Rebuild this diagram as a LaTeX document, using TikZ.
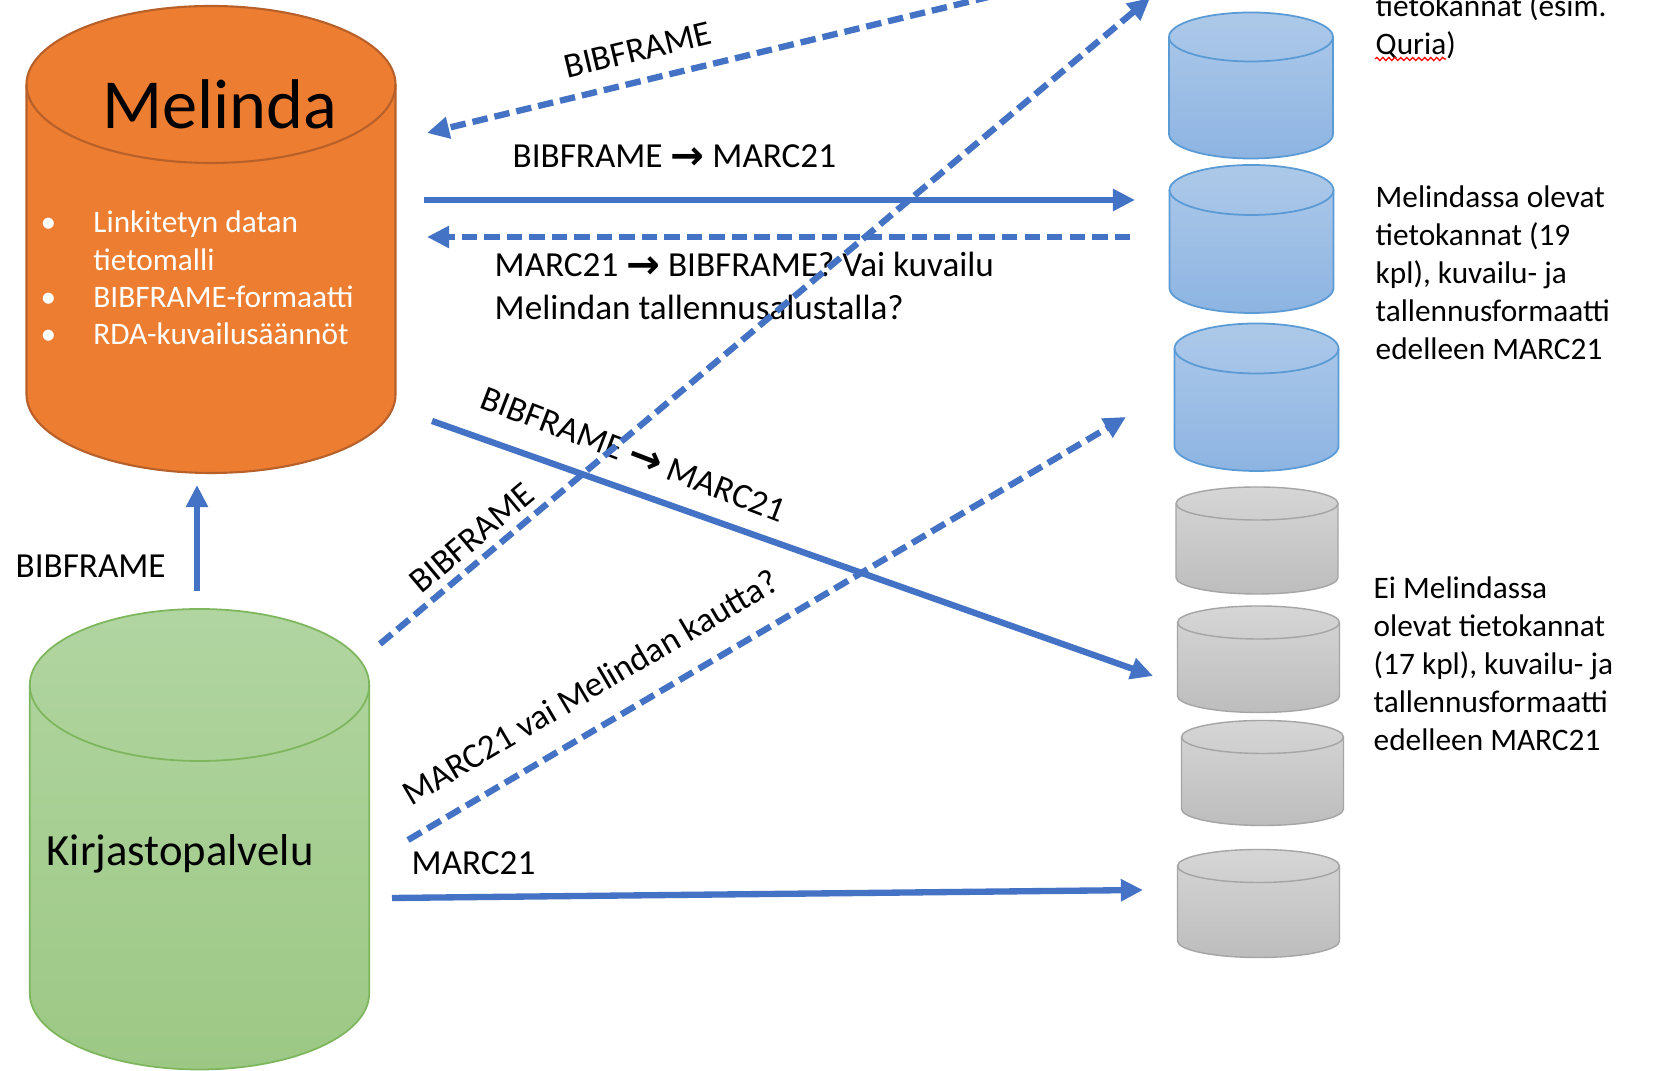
\documentclass[tikz,border=0pt]{standalone}
\usepackage{fontspec}
\setmainfont{Carlito}
\newfontfamily\symfont{DejaVu Sans Bold}
\usetikzlibrary{arrows.meta,decorations.pathmorphing}
\definecolor{arrowblue}{HTML}{4472C4}
\definecolor{melorange}{HTML}{ED7D31}
\definecolor{melborder}{HTML}{B8602A}
\definecolor{greentop}{HTML}{B1D5A1}
\definecolor{greenbot}{HTML}{9CC884}
\definecolor{greenline}{HTML}{7DB65C}
\definecolor{bluetop}{HTML}{ADC9E9}
\definecolor{bluebot}{HTML}{8DB4E2}
\definecolor{blueline}{HTML}{5B9BD5}
\definecolor{graytop}{HTML}{D6D6D6}
\definecolor{graybot}{HTML}{BDBDBD}
\definecolor{grayline}{HTML}{A5A5A5}
\newcommand\rarr{\raisebox{-0.4pt}{\symfont\fontsize{11.5}{12}\selectfont →}}
% cx, ytop-center, ybottom-center, rx, ry, body style, rim style
\newcommand\dbcylinder[7]{%
  \path[#6] (#1-#4,#2) -- (#1-#4,#3)
    arc[start angle=180,end angle=0,x radius=#4,y radius=#5]
    -- (#1+#4,#2)
    arc[start angle=0,end angle=-180,x radius=#4,y radius=#5] -- cycle;
  \draw[#7] (#1-#4,#2) arc[start angle=180,end angle=0,x radius=#4,y radius=#5];
}
\tikzset{
  lbl/.style={inner sep=0pt, font=\fontsize{10}{12.2}\selectfont, text=black},
  side/.style={inner sep=0pt, anchor=base west, font=\fontsize{8.9}{10.8}\selectfont, text=black},
  flow/.style={draw=arrowblue, line width=1.8pt, -{Triangle[length=6.3pt,width=6pt]}},
  flowdash/.style={flow, dash pattern=on 4.4pt off 2pt},
  orangebody/.style={fill=melorange, draw=melborder, line width=0.6pt},
  orangerim/.style={draw=melborder, line width=0.6pt},
  greenbody/.style={top color=greentop, bottom color=greenbot, draw=greenline, line width=0.5pt},
  greenrim/.style={draw=greenline, line width=0.5pt},
  bluebody/.style={top color=bluetop, bottom color=bluebot, draw=blueline, line width=0.5pt},
  bluerim/.style={draw=blueline, line width=0.5pt},
  graybody/.style={top color=graytop, bottom color=graybot, draw=grayline, line width=0.4pt},
  grayrim/.style={draw=grayline, line width=0.4pt},
}
\begin{document}
\begin{tikzpicture}[x=0.01cm,y=-0.01cm]
\useasboundingbox (0,0) rectangle (1663,1071);
\fill[white] (0,0) rectangle (1663,1071);

% ---------- cylinders ----------
\dbcylinder{211}{84.5}{394.5}{184.5}{78.5}{orangebody}{orangerim}
\dbcylinder{199.5}{685}{993.5}{169.7}{76}{greenbody}{greenrim}
\dbcylinder{1251}{37}{134}{82}{24.5}{bluebody}{bluerim}
\dbcylinder{1251.5}{190}{288}{82}{25}{bluebody}{bluerim}
\dbcylinder{1256.5}{348.5}{446}{82}{25}{bluebody}{bluerim}
\dbcylinder{1257}{503.5}{577.5}{81}{16.5}{graybody}{grayrim}
\dbcylinder{1258.5}{622.5}{696}{81}{16.5}{graybody}{grayrim}
\dbcylinder{1262.5}{737}{809}{81}{16.5}{graybody}{grayrim}
\dbcylinder{1258.5}{866}{941}{81}{16.5}{graybody}{grayrim}

% ---------- texts in cylinders ----------
\node[inner sep=0pt, anchor=base, font=\fontsize{20}{24}\selectfont] (melinda) at (220,129) {Melinda};
\node[inner sep=0pt, anchor=base west, text=white, font=\fontsize{8.9}{10.6}\selectfont] (bullets) at (40,233)
  {\begin{tabular}[t]{@{}p{15pt}@{}l@{}}
   • & Linkitetyn datan\\
     & tietomalli\\
   • & BIBFRAME-formaatti\\
   • & RDA-kuvailusäännöt
   \end{tabular}};
\node[inner sep=0pt, anchor=base west, font=\fontsize{12.7}{15}\selectfont] (kirjasto) at (46,866) {Kirjastopalvelu};

% ---------- side texts ----------
\node[side] (toptext) at (1375,17)
  {\begin{tabular}[t]{@{}l@{}}tietokannat (esim.\\Quria)\end{tabular}};
\draw[red, line width=0.35pt, decorate, decoration={snake, amplitude=0.45pt, segment length=1.7pt}] (1375,59) -- (1446,59);
\node[side] (meltext) at (1375,208)
  {\begin{tabular}[t]{@{}l@{}}Melindassa olevat\\tietokannat (19\\kpl), kuvailu- ja\\tallennusformaatti\\edelleen MARC21\end{tabular}};
\node[side] (eitext) at (1373,599)
  {\begin{tabular}[t]{@{}l@{}}Ei Melindassa\\olevat tietokannat\\(17 kpl), kuvailu- ja\\tallennusformaatti\\edelleen MARC21\end{tabular}};

% ---------- connector labels ----------
\node[lbl, anchor=base west] (l1) at (512,168) {BIBFRAME \rarr\ MARC21};
\node[lbl, anchor=base west] (l2) at (494,277)
  {\begin{tabular}[t]{@{}l@{}}MARC21 \rarr\ BIBFRAME? Vai kuvailu\\Melindan tallennusalustalla?\end{tabular}};
\node[lbl, anchor=base west] (l3) at (15,578) {BIBFRAME};
\node[lbl, anchor=base west] (l4) at (411,875) {MARC21};
\node[lbl, rotate=13.5] (l5) at (638,50) {BIBFRAME};
\node[lbl, rotate=40] (l6) at (472,538) {BIBFRAME};
\node[lbl, rotate=-21] (l7) at (633,455) {BIBFRAME \rarr\ MARC21};
\node[lbl, rotate=30.5] (l8) at (590,687) {MARC21 vai Melindan kautta?};

% ---------- connector end points ----------
\coordinate (offTopA) at (1100,-30);
\coordinate (melE1) at (427,133);
\coordinate (melE2) at (424,200);
\coordinate (blue2W) at (1135,200);
\coordinate (blue2Wb) at (1130,237);
\coordinate (melE3) at (427,237);
\coordinate (melE4) at (432,421);
\coordinate (gray5W) at (1153,676);
\coordinate (kirN) at (197,591);
\coordinate (melS) at (197,485);
\coordinate (kirNE) at (380,644);
\coordinate (offTopB) at (1150,-2);
\coordinate (kirE1) at (408,840);
\coordinate (blue3W) at (1126,417);
\coordinate (kirE2) at (392,898);
\coordinate (gray7W) at (1143,890);

% ---------- connectors ----------
\draw[flowdash] (offTopA) -- (melE1);
\draw[flow] (melE2) -- (blue2W);
\draw[flowdash] (blue2Wb) -- (melE3);
\draw[flow] (melE4) -- (gray5W);
\draw[flow] (kirN) -- (melS);
\draw[flowdash] (kirNE) -- (offTopB);
\draw[flowdash] (kirE1) -- (blue3W);
\draw[flow] (kirE2) -- (gray7W);
\end{tikzpicture}
\end{document}
